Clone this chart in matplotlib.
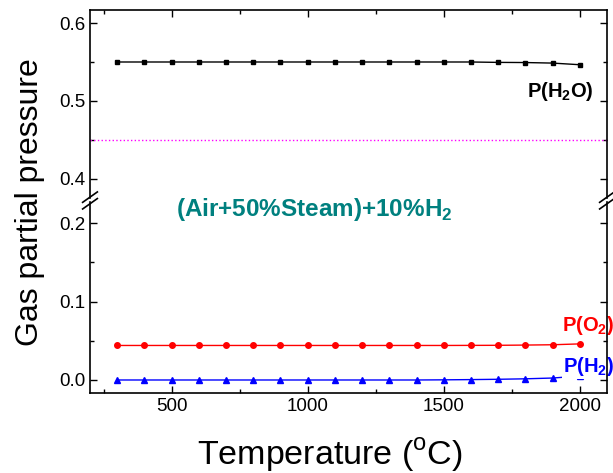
import numpy as np
import matplotlib
matplotlib.use('Agg')
import matplotlib.pyplot as plt
from matplotlib.ticker import MultipleLocator

plt.rcParams['font.family'] = ['Liberation Sans', 'DejaVu Sans']
plt.rcParams['mathtext.fontset'] = 'custom'
plt.rcParams['mathtext.rm'] = 'Liberation Sans'
plt.rcParams['mathtext.bf'] = 'Liberation Sans:bold'

# temperature (C)
temp = [300, 400, 500, 600, 700, 800, 900, 1000, 1100, 1200,
        1300, 1400, 1500, 1600, 1700, 1800, 1900, 2000]
# partial pressures
p_h2o = [0.550, 0.550, 0.550, 0.550, 0.550, 0.550, 0.550, 0.550, 0.550, 0.550,
         0.550, 0.550, 0.550, 0.550, 0.5495, 0.5493, 0.5486, 0.5465]
p_o2 = [0.044, 0.044, 0.044, 0.044, 0.044, 0.044, 0.044, 0.044, 0.044, 0.044,
        0.044, 0.044, 0.044, 0.0441, 0.0442, 0.0445, 0.0449, 0.046]
p_h2 = [0.0, 0.0, 0.0, 0.0, 0.0, 0.0, 0.0, 0.0, 0.0, 0.0,
        0.0, 0.0, 0.0002, 0.0005, 0.0009, 0.0015, 0.0025, 0.005]
ref_level = 0.45

fig = plt.figure(figsize=(6.13, 4.73), dpi=100)
ax_top = fig.add_axes([0.1468, 0.5814, 0.8434, 0.3975])
ax_bot = fig.add_axes([0.1468, 0.1691, 0.8434, 0.4038])

teal = '#00807f'

ax_top.plot(temp, p_h2o, color='black', marker='s', markersize=3.5, lw=1)
ax_top.axhline(ref_level, color='#ff00ff', ls=':', lw=1)
ax_bot.plot(temp, p_o2, color='red', marker='o', markersize=4, lw=1)
ax_bot.plot(temp, p_h2, color='blue', marker='^', markersize=4.5, lw=1)

for ax in (ax_top, ax_bot):
    ax.set_xlim(200, 2100)
    ax.xaxis.set_major_locator(MultipleLocator(500))
    ax.xaxis.set_minor_locator(MultipleLocator(250))
    ax.yaxis.set_major_locator(MultipleLocator(0.1))
    ax.yaxis.set_minor_locator(MultipleLocator(0.05))
    ax.tick_params(which='both', direction='in', right=True, top=True, labelsize=13.5, width=1)
    ax.tick_params(which='major', length=5)
    ax.tick_params(which='minor', length=3)
    for s in ax.spines.values():
        s.set_linewidth(1.2)

ax_top.set_ylim(0.3756, 0.6167)
ax_bot.set_ylim(-0.0166, 0.2268)
ax_top.spines['bottom'].set_visible(False)
ax_bot.spines['top'].set_visible(False)
ax_top.tick_params(which='both', bottom=False, labelbottom=False)
ax_bot.tick_params(which='both', top=False)
ax_top.yaxis.set_major_formatter(matplotlib.ticker.FormatStrFormatter('%.1f'))
ax_bot.yaxis.set_major_formatter(matplotlib.ticker.FormatStrFormatter('%.1f'))

# break marks
d = 0.012
for xx in (0, 1):
    for yy in (-0.006, 0.008):
        fig.add_artist(plt.Line2D([0.1468 + xx * 0.8434 - d, 0.1468 + xx * 0.8434 + d],
                                  [0.5752 + yy - 0.011, 0.5752 + yy + 0.011],
                                  color='black', lw=1.2))

ax_top.text(1927, 0.5128, r'P(H$_\mathbf{2}$O)', fontsize=14.5, fontweight='bold',
            ha='center', va='center')
ax_bot.text(1935, 0.0694, r'P(O$_\mathbf{2}$)', fontsize=14.5, fontweight='bold',
            color='red', ha='left', va='center', clip_on=False, zorder=2.4)
ax_bot.text(1937, 0.017, r'P(H$_\mathbf{2}$)', fontsize=14.5, fontweight='bold',
            color='blue', ha='left', va='center', clip_on=False, zorder=2.4,
            bbox=dict(facecolor='white', edgecolor='none', pad=0.5))
ax_bot.text(1026, 0.217, r'(Air+50%Steam)+10%H$_\mathbf{2}$', fontsize=17.5,
            fontweight='bold', color=teal, ha='center', va='center', clip_on=False)

fig.text(0.049, 0.573, 'Gas partial pressure', fontsize=23, rotation=90,
         ha='center', va='center')
fig.text(0.538, 0.038, r'Temperature ($^\mathregular{o}$C)', fontsize=24.5,
         ha='center', va='center')

fig.savefig('out.png', dpi=100)
